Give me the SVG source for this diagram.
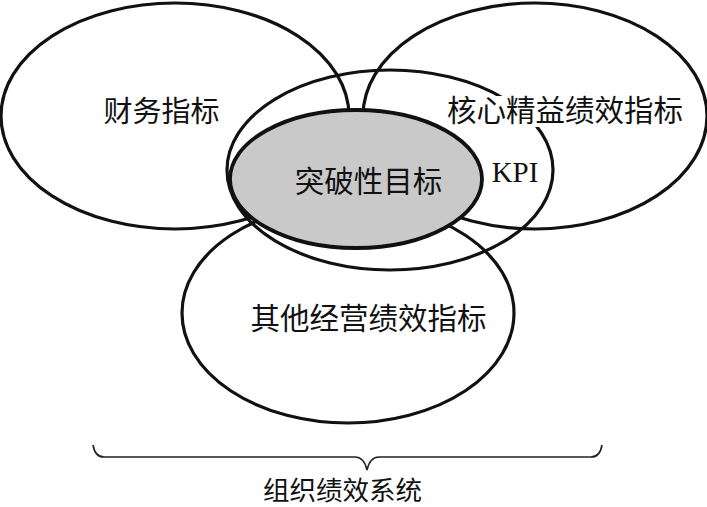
<svg xmlns="http://www.w3.org/2000/svg" width="707" height="507" viewBox="0 0 707 507">
<style>
.ring{fill:none;stroke:#111;stroke-width:3.2}
.core{fill:#c9c9c9;stroke:#111;stroke-width:3.8}
.cn{font-family:"Noto Sans CJK SC","Noto Sans CJK TC",sans-serif;fill:#111;text-anchor:middle}
.lat{font-family:"Liberation Serif",serif;fill:#111;text-anchor:middle}
.brace{fill:none;stroke:#222;stroke-width:1.6}
</style>
<rect width="707" height="507" fill="#fff"/>
<g id="finance">
<ellipse class="ring" cx="175" cy="116" rx="174" ry="113"/>
</g>
<g id="lean">
<ellipse class="ring" cx="535" cy="116" rx="172" ry="113"/>
</g>
<g id="kpi">
<ellipse class="ring" cx="390" cy="170" rx="163" ry="100"/>
</g>
<g id="other">
<ellipse class="ring" cx="348" cy="313" rx="166" ry="110"/>
</g>
<g id="finance-label">
<text class="cn" x="161.5" y="122" font-size="29">财务指标</text>
</g>
<g id="lean-label">
<rect x="445" y="96" width="241" height="31" fill="#fff"/>
<text class="cn" x="565" y="121" font-size="29.5">核心精益绩效指标</text>
</g>
<g id="kpi-label">
<text class="lat" x="515" y="182" font-size="29">KPI</text>
</g>
<g id="other-label">
<text class="cn" x="368.5" y="329" font-size="29.5">其他经营绩效指标</text>
</g>
<g id="breakthrough">
<ellipse class="core" cx="356" cy="179" rx="126" ry="69"/>
<text class="cn" x="368.5" y="192" font-size="29.5">突破性目标</text>
</g>
<g id="connectors">
<path class="brace" d="M93,445 Q95,457 104,457 L355,457 Q364,457 367,470 Q370,457 379,457 L591,457 Q600,457 602,445"/>
</g>
<g id="system-label">
<text class="cn" x="342.5" y="500" font-size="26.5">组织绩效系统</text>
</g>
</svg>
